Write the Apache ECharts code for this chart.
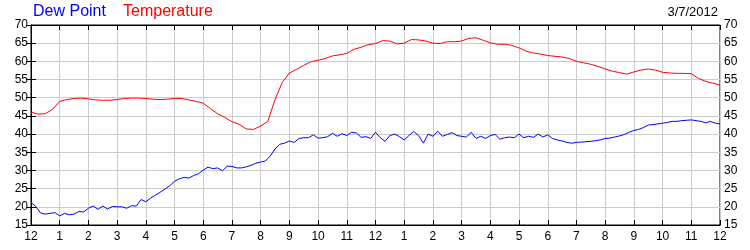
<!DOCTYPE html>
<html><head><meta charset="utf-8">
<script src="https://cdn.jsdelivr.net/npm/echarts@6/dist/echarts.min.js"></script>
<style>html,body{margin:0;padding:0;background:#fff}#c{width:750px;height:250px}</style>
</head><body><div id="c"></div>
<script>
var tempHours = [];
for (var i = 0; i <= 96; i++) tempHours.push(i / 4);
var dewHours = [];
for (var j = 0; j <= 144; j++) dewHours.push(j / 6);
var hourLabels = ['12','1','2','3','4','5','6','7','8','9','10','11','12','1','2','3','4','5','6','7','8','9','10','11','12'];
var temperature = [46.0,45.5,45.6,46.8,49.0,49.5,49.8,49.9,49.7,49.4,49.3,49.3,49.5,49.8,49.9,49.9,
49.8,49.6,49.5,49.6,49.8,49.8,49.4,49.0,48.5,47.0,45.6,44.6,43.4,42.7,41.4,41.3,
42.2,43.5,49.5,54.2,56.8,57.8,58.9,59.9,60.3,60.8,61.5,61.8,62.2,63.3,63.9,64.6,
64.9,65.7,65.6,64.8,65.0,66.0,65.9,65.6,65.0,64.9,65.4,65.4,65.6,66.3,66.5,65.8,
65.1,64.7,64.7,64.4,63.7,62.8,62.3,62.0,61.6,61.4,61.2,60.8,60.0,59.6,59.2,58.6,
57.9,57.3,56.9,56.5,57.1,57.6,57.9,57.6,57.0,56.8,56.7,56.7,56.6,55.3,54.5,54.0,53.5];
var dewPoint = [
21.2,20.1,18.3,18.0,18.2,18.4,
17.5,18.2,17.8,18.0,18.7,18.6,
19.6,20.2,19.3,20.2,19.4,20.1,
20.0,20.0,19.6,20.3,20.2,22.0,
21.4,22.4,23.2,24.0,24.9,25.8,
27.0,27.7,28.1,27.9,28.6,29.1,
30.1,30.9,30.5,30.7,29.9,31.2,
31.1,30.7,30.7,31.0,31.4,32.0,
32.3,32.6,34.0,35.9,37.2,37.5,
38.1,37.7,38.8,39.0,39.0,39.8,
38.9,39.0,39.3,40.2,39.4,40.1,
39.6,40.5,40.3,39.1,39.3,38.8,
40.5,39.0,38.0,39.6,40.0,39.3,
38.4,39.6,40.7,39.6,37.5,40.0,
39.4,40.8,39.4,39.9,40.4,39.6,
39.4,39.2,40.5,38.8,39.4,38.8,
39.6,39.9,38.6,39.0,39.2,39.0,
40.0,39.0,39.4,39.1,40.0,39.2,
39.8,38.8,38.4,38.1,37.7,37.5,
37.7,37.8,37.9,38.0,38.2,38.4,
38.8,38.9,39.2,39.5,39.9,40.5,
41.0,41.3,41.8,42.5,42.6,42.8,
43.0,43.2,43.5,43.5,43.7,43.8,
43.9,43.7,43.5,43.1,43.5,43.0,
42.8];
var dateText = '3/7/2012';

function pairs(xs, arr){ return arr.map(function(v,i){ return [xs[i], v]; }); }

var chart = echarts.init(document.getElementById('c'));
var lbl = {color:'#000', fontSize:12, fontFamily:'Liberation Sans, Arial, sans-serif'};
var yBase = {
  type:'value', min:15, max:70, interval:5,
  axisLine:{show:true, lineStyle:{color:'#000', width:1}},
  axisTick:{show:true, inside:true, length:5, lineStyle:{color:'#000'}},
  splitLine:{show:true, lineStyle:{color:'#cccccc', width:1}}
};
chart.setOption({
  animation:false,
  title:[
    {text:'Dew Point', left:33, top:4, padding:0, textStyle:{color:'#0000ff', fontSize:16, fontWeight:'normal', fontFamily:'Liberation Sans, Arial, sans-serif'}},
    {text:'Temperature', left:123, top:4, padding:0, textStyle:{color:'#ff0000', fontSize:16, fontWeight:'normal', fontFamily:'Liberation Sans, Arial, sans-serif'}},
    {text:dateText, right:32, top:6, padding:0, textStyle:{color:'#000', fontSize:13, fontWeight:'normal', fontFamily:'Liberation Sans, Arial, sans-serif'}}
  ],
  grid:{left:31, right:30, top:25, bottom:25, show:true, borderColor:'#000', borderWidth:1},
  xAxis:[
    {type:'value', min:0, max:24, interval:1, position:'bottom',
     axisLine:{show:true, lineStyle:{color:'#000'}},
     axisTick:{show:true, inside:true, length:5, lineStyle:{color:'#000'}},
     axisLabel:Object.assign({margin:6, formatter:function(v){ return hourLabels[Math.round(v)]; }}, lbl),
     splitLine:{show:true, lineStyle:{color:'#cccccc', width:1}}},
    {type:'value', min:0, max:24, interval:1, position:'top',
     axisLine:{show:true, lineStyle:{color:'#000'}},
     axisTick:{show:true, inside:true, length:5, lineStyle:{color:'#000'}},
     axisLabel:{show:false}, splitLine:{show:false}}
  ],
  yAxis:[
    Object.assign({position:'left', axisLabel:Object.assign({margin:3}, lbl)}, yBase),
    Object.assign({position:'right', axisLabel:Object.assign({margin:4}, lbl)}, yBase, {splitLine:{show:false}})
  ],
  series:[
    {name:'Temperature', type:'line', data:pairs(tempHours, temperature), showSymbol:false, symbol:'none',
     lineStyle:{color:'#ff0000', width:1}, xAxisIndex:0, yAxisIndex:0},
    {name:'Dew Point', type:'line', data:pairs(dewHours, dewPoint), showSymbol:false, symbol:'none',
     lineStyle:{color:'#0000ff', width:1}, xAxisIndex:0, yAxisIndex:0}
  ]
});
</script></body></html>
